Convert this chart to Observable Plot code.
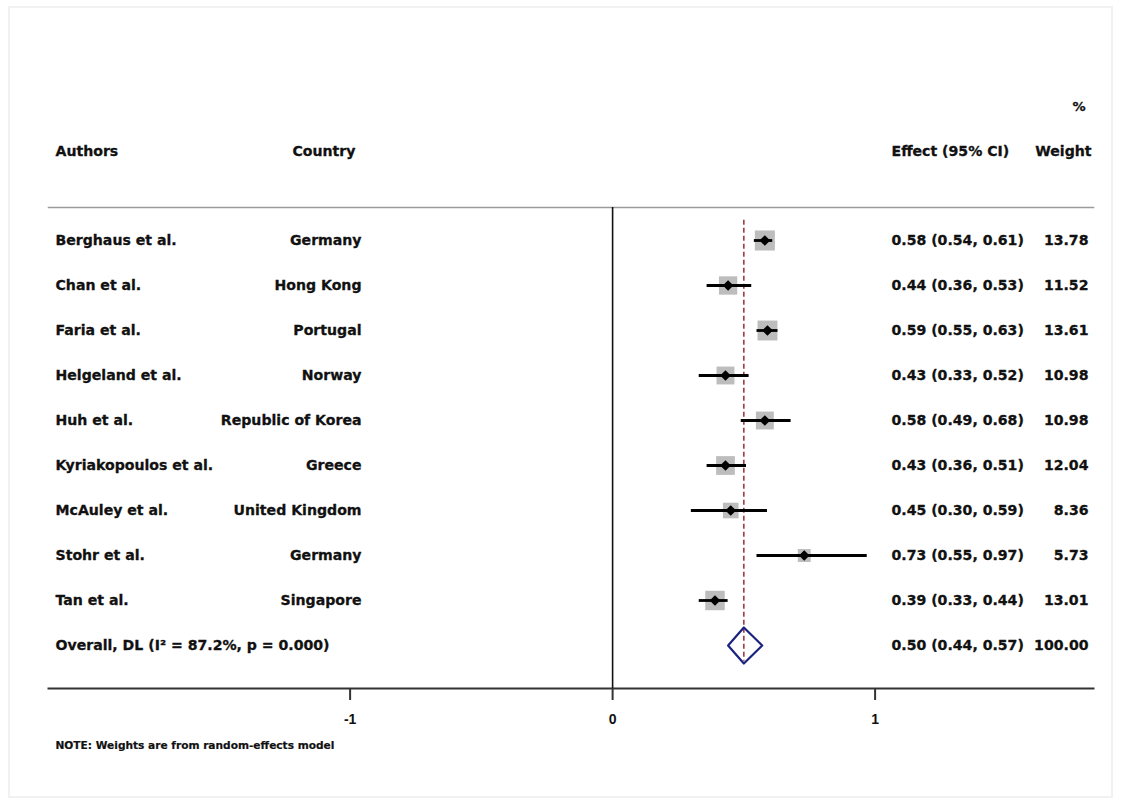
<!DOCTYPE html>
<html>
<head>
<meta charset="utf-8">
<script src="https://cdn.jsdelivr.net/npm/d3@7"></script>
<script src="https://cdn.jsdelivr.net/npm/@observablehq/plot@0.6"></script>
<style>
  html, body { margin: 0; padding: 0; background: #fff; }
  #wrap { position: relative; width: 1123px; height: 807px; }
  #border { position: absolute; left: 8px; top: 6px; width: 1105px; height: 792px; border: 2px solid #f1f1f1; box-sizing: border-box; pointer-events: none; }
  svg { position: absolute; left: 0; top: 0; }
</style>
</head>
<body>
<div id="wrap"><div id="border"></div></div>
<script>
// ---- data ----
const authors = ["Berghaus et al.", "Chan et al.", "Faria et al.", "Helgeland et al.", "Huh et al.",
  "Kyriakopoulos et al.", "McAuley et al.", "Stohr et al.", "Tan et al."];
const countries = ["Germany", "Hong Kong", "Portugal", "Norway", "Republic of Korea",
  "Greece", "United Kingdom", "Germany", "Singapore"];
const effects = [0.58, 0.44, 0.59, 0.43, 0.58, 0.43, 0.45, 0.73, 0.39];
const lowers  = [0.54, 0.36, 0.55, 0.33, 0.49, 0.36, 0.30, 0.55, 0.33];
const uppers  = [0.61, 0.53, 0.63, 0.52, 0.68, 0.51, 0.59, 0.97, 0.44];
const weights = [13.78, 11.52, 13.61, 10.98, 10.98, 12.04, 8.36, 5.73, 13.01];
const overallLabel = "Overall, DL (I\u00B2 = 87.2%, p = 0.000)";
const overallEffect = 0.50, overallLower = 0.44, overallUpper = 0.57, overallWeight = 100.00;
const xTicks = [-1, 0, 1];
const headers = {authors: "Authors", country: "Country", effect: "Effect (95% CI)", weight: "Weight", pct: "%"};
const note = "NOTE: Weights are from random-effects model";

// ---- build table ----
const studies = authors.map((a, i) => ({
  author: a, country: countries[i], effect: effects[i], lower: lowers[i], upper: uppers[i],
  weight: weights[i], row: i,
  ci: `${effects[i].toFixed(2)} (${lowers[i].toFixed(2)}, ${uppers[i].toFixed(2)})`,
  w: weights[i].toFixed(2)
}));
const overallRow = studies.length;
const overall = [{label: overallLabel, row: overallRow,
  ci: `${overallEffect.toFixed(2)} (${overallLower.toFixed(2)}, ${overallUpper.toFixed(2)})`,
  w: overallWeight.toFixed(2)}];
const diamond = [
  {x: overallLower, y: overallRow}, {x: overallEffect, y: overallRow - 0.4},
  {x: overallUpper, y: overallRow}, {x: overallEffect, y: overallRow + 0.4},
  {x: overallLower, y: overallRow}
];

const W = 1123, H = 807;
const font = "'DejaVu Sans', Verdana, sans-serif";
const textColor = "#111";
const fs = 14.1;
const T = (data, opts) => Plot.text(data, {fontSize: fs, fontWeight: "bold", fill: textColor,
  stroke: textColor, strokeWidth: 0.3, ...opts});

const chart = Plot.plot({
  width: W, height: H,
  marginLeft: 48, marginRight: 30, marginTop: 207, marginBottom: 119,
  style: {fontFamily: font, background: "transparent"},
  x: {domain: [-2.149, 1.832], ticks: xTicks, label: null},
  y: {domain: [-240 / 45, (H - 240) / 45], range: [0, H], axis: null},
  r: {type: "sqrt", domain: [0, 14], range: [0, 11.4]},
  marks: [
    Plot.frame({anchor: "top", stroke: "#9a9a9a", strokeWidth: 1.5}),
    Plot.frame({anchor: "bottom", stroke: "#333", strokeWidth: 2}),
    Plot.axisX({ticks: xTicks, tickSize: 12, tickPadding: 14, tickFormat: d => String(d),
      stroke: "#333", strokeWidth: 2, fontSize: 14, fontWeight: "bold",
      fontFamily: "'Liberation Sans', Arial, sans-serif", fill: "#111"}),
    Plot.ruleX([0], {stroke: "#111", strokeWidth: 1.6}),
    Plot.ruleX([overallEffect], {y1: -0.45, y2: overallRow + 0.35, stroke: "#8e1f2c",
      strokeWidth: 1.4, strokeDasharray: "5,3"}),
    // weight squares
    Plot.dot(studies, {x: "effect", y: "row", r: "weight", symbol: "square", fill: "#bdbdbd", stroke: "none"}),
    // CI lines
    Plot.ruleY(studies, {y: "row", x1: "lower", x2: "upper", stroke: "#000", strokeWidth: 2.8}),
    // point estimates
    Plot.dot(studies, {x: "effect", y: "row", r: 4.8, symbol: "diamond2", fill: "#000", stroke: "none"}),
    // overall diamond
    Plot.line(diamond, {x: "x", y: "y", stroke: "#1b2380", strokeWidth: 2.2, fill: "none"}),
    // headers
    T([headers.authors], {frameAnchor: "left", dx: 7, y: () => -1.98, textAnchor: "start"}),
    T([headers.country], {frameAnchor: "left", dx: 307, y: () => -1.98, textAnchor: "end"}),
    T([headers.effect], {frameAnchor: "left", dx: 843, y: () => -1.98, textAnchor: "start"}),
    T([headers.weight], {frameAnchor: "right", dx: -2, y: () => -1.98, textAnchor: "end"}),
    T([headers.pct], {frameAnchor: "right", dx: -8, y: () => -2.98, textAnchor: "end", fontSize: fs - 1}),
    // rows
    T(studies, {frameAnchor: "left", dx: 7, y: "row", text: "author", textAnchor: "start"}),
    T(studies, {frameAnchor: "left", dx: 313, y: "row", text: "country", textAnchor: "end"}),
    T(studies, {frameAnchor: "left", dx: 843, y: "row", text: "ci", textAnchor: "start"}),
    T(studies, {frameAnchor: "right", dx: -5, y: "row", text: "w", textAnchor: "end"}),
    T(overall, {frameAnchor: "left", dx: 7, y: "row", text: "label", textAnchor: "start"}),
    T(overall, {frameAnchor: "left", dx: 843, y: "row", text: "ci", textAnchor: "start"}),
    T(overall, {frameAnchor: "right", dx: -5, y: "row", text: "w", textAnchor: "end"}),
    // note
    T([note], {frameAnchor: "bottom-left", dx: 7, dy: 60, textAnchor: "start", fontSize: 10.6, strokeWidth: 0.2})
  ]
});
document.getElementById("wrap").appendChild(chart);
</script>
</body>
</html>
